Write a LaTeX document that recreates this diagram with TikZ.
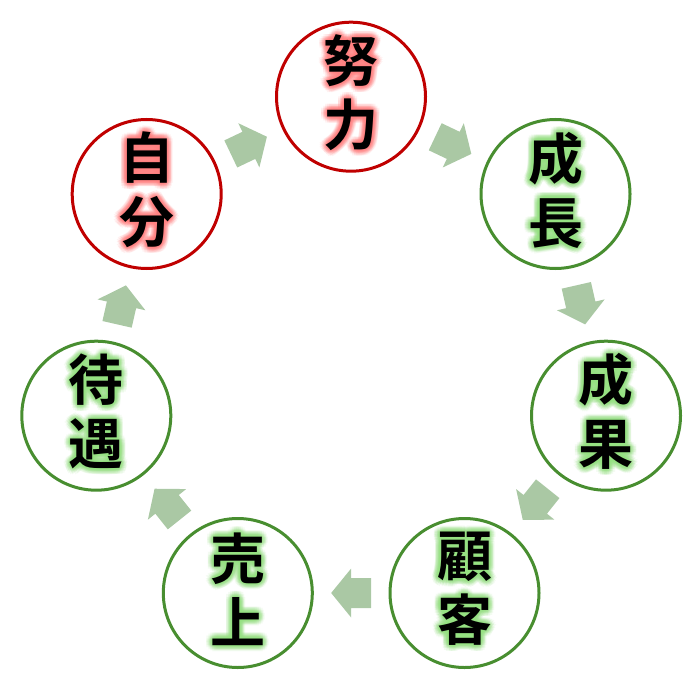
\documentclass[tikz,border=0pt]{standalone}
\usepackage{fontspec}
\newfontfamily\jp{Noto Sans CJK JP}[BoldFont={Noto Sans CJK JP Bold}]
\usetikzlibrary{calc}
\definecolor{redline}{RGB}{192,0,0}
\definecolor{greenline}{RGB}{72,142,48}
\definecolor{arrowfill}{RGB}{170,200,164}
\definecolor{redglow}{RGB}{255,130,130}
\definecolor{greenglow}{RGB}{150,225,130}
\tikzset{
  circ/.style={circle, line width=3pt, minimum size=149pt, inner sep=0pt, fill=white},
  redcirc/.style={circ, draw=redline},
  greencirc/.style={circ, draw=greenline},
  lbl/.style={font=\jp\bfseries\fontsize{55}{64}\selectfont, align=center, inner sep=0pt, text=black},
  flow/.style={fill=arrowfill, draw=none}
}
\newcommand\glowlabel[3]{% #1 position, #2 glow colour, #3 text
  \foreach \r in {1.5,3,4.5,6}{%
    \foreach \a in {0,22.5,...,337.5}{%
      \node[lbl, text=#2, opacity=0.1] at ($(#1)+(\a:\r pt)+(0,-4)$) {#3};}}
  \node[lbl] at ($(#1)+(0,-4)$) {#3};}
\newcommand\flowarrow[2]{%
  \coordinate (m) at ($(#1)!0.5!(#2)$);
  \coordinate (t) at ($(m)!-20pt!(#2)$);
  \coordinate (p) at ($(m)!20pt!(#2)$);
  \fill[flow] ($(t)!15pt!90:(#2)$) -- ($(m)!15pt!90:(#2)$) -- ($(m)!24.5pt!90:(#2)$) -- (p)
     -- ($(m)!24.5pt!-90:(#2)$) -- ($(m)!15pt!-90:(#2)$) -- ($(t)!15pt!-90:(#2)$) -- cycle;}
\begin{document}
\begin{tikzpicture}[x=1pt,y=-1pt]
\useasboundingbox (0,0) rectangle (700,700);
\node[redcirc]   (doryoku) at (351,96.7) {};
\node[greencirc] (seicho)  at (555.5,194) {};
\node[greencirc] (seika)   at (606,415.7) {};
\node[greencirc] (kokyaku) at (464.5,593) {};
\node[greencirc] (uriage)  at (237.8,593) {};
\node[greencirc] (taigu)   at (96.3,415.7) {};
\node[redcirc]   (jibun)   at (146.7,194) {};
\glowlabel{doryoku}{redglow}{努\\力}
\glowlabel{jibun}{redglow}{自\\分}
\glowlabel{seicho}{greenglow}{成\\長}
\glowlabel{seika}{greenglow}{成\\果}
\glowlabel{kokyaku}{greenglow}{顧\\客}
\glowlabel{uriage}{greenglow}{売\\上}
\glowlabel{taigu}{greenglow}{待\\遇}
\flowarrow{jibun}{doryoku}
\flowarrow{doryoku}{seicho}
\flowarrow{seicho}{seika}
\flowarrow{seika}{kokyaku}
\flowarrow{kokyaku}{uriage}
\flowarrow{uriage}{taigu}
\flowarrow{taigu}{jibun}
\end{tikzpicture}
\end{document}
